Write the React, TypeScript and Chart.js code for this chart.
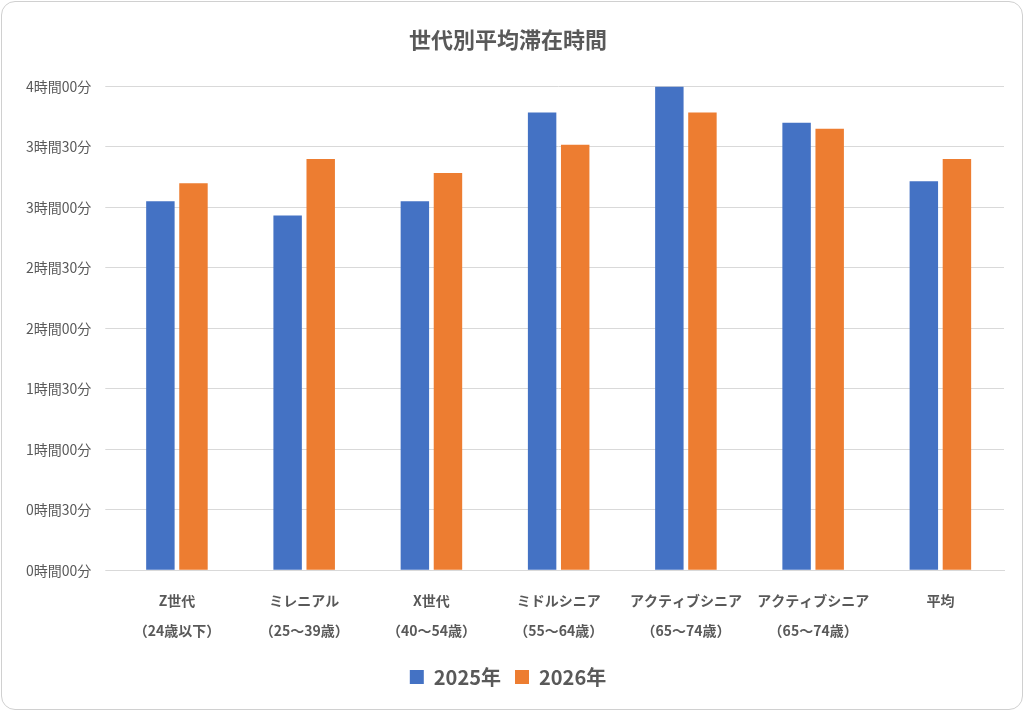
import React, { useEffect, useRef } from "react";
import { Chart, registerables } from "chart.js";
Chart.register(...registerables);

const categories: string[][] = [
  ["Z世代", "（24歳以下）"],
  ["ミレニアル", "（25～39歳）"],
  ["X世代", "（40～54歳）"],
  ["ミドルシニア", "（55～64歳）"],
  ["アクティブシニア", "（65～74歳）"],
  ["アクティブシニア", "（65～74歳）"],
  ["平均", ""],
];
const series2025: number[] = [183, 176, 183, 227, 240, 222, 193];
const series2026: number[] = [192, 204, 197, 211, 227, 219, 204];
const yTickLabels: string[] = [
  "0時間00分", "0時間30分", "1時間00分", "1時間30分", "2時間00分",
  "2時間30分", "3時間00分", "3時間30分", "4時間00分",
];

export default function App() {
  const ref = useRef<HTMLCanvasElement>(null);
  useEffect(() => {
    document.body.style.margin = "0";
    const font = "'Noto Sans CJK JP', 'Noto Sans', sans-serif";
    const chart = new Chart(ref.current!, {
      type: "bar",
      data: {
        labels: categories,
        datasets: [
          { label: "2025年", data: series2025, backgroundColor: "#4472c4", barPercentage: 0.86, categoryPercentage: 0.52 },
          { label: "2026年", data: series2026, backgroundColor: "#ed7d31", barPercentage: 0.86, categoryPercentage: 0.52 },
        ],
      },
      options: {
        animation: false,
        responsive: false,
        layout: { padding: { left: 10, right: 18, top: 8, bottom: 12 } },
        plugins: {
          title: {
            display: true,
            text: "世代別平均滞在時間",
            color: "#595959",
            font: { family: font, size: 22, weight: "bold" },
            padding: { top: 16, bottom: 34 },
          },
          legend: {
            position: "bottom",
            labels: {
              color: "#595959",
              font: { family: font, size: 20, weight: "bold" },
              boxWidth: 14,
              boxHeight: 14,
              padding: 14,
            },
          },
          tooltip: { enabled: false },
        },
        scales: {
          x: {
            grid: { display: false },
            border: { color: "#d9d9d9" },
            ticks: { color: "#595959", font: { family: font, size: 14, weight: "bold", lineHeight: 2.1 }, padding: 8 },
          },
          y: {
            min: 0,
            max: 240,
            border: { display: false },
            grid: { color: "#d9d9d9" },
            ticks: {
              stepSize: 30,
              color: "#595959",
              padding: 14,
              font: { family: font, size: 14 },
              callback: (_v: any, i: number) => yTickLabels[i],
            },
          },
        },
      },
    });
    return () => chart.destroy();
  }, []);
  return (
    <div style={{ position: "absolute", left: 1, top: 1, width: 1020, height: 707, border: "1px solid #d0d0d0", borderRadius: 14, background: "#fff", overflow: "hidden" }}>
      <canvas ref={ref} width={1020} height={707} />
    </div>
  );
}
